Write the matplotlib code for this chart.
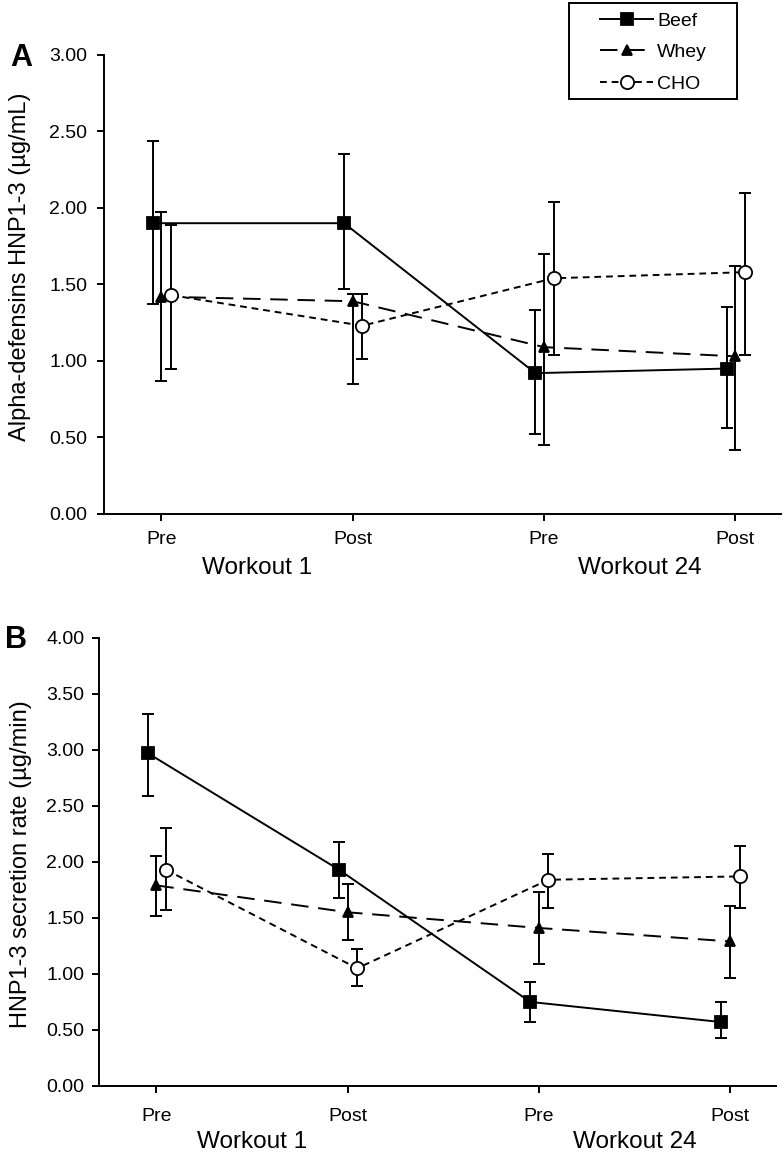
import matplotlib
matplotlib.use("Agg")
import matplotlib.pyplot as plt
from matplotlib.patches import Rectangle
import numpy as np

plt.rcParams['font.family'] = ['Liberation Sans', 'DejaVu Sans']

# time points, positions 1..4
time_labels = ["Pre", "Post", "Pre", "Post"]
workouts = ["Workout 1", "Workout 24"]
groups = ["Beef", "Whey", "CHO"]

# Panel A: alpha-defensins HNP1-3 (ug/mL), mean with lower / upper error bar ends
beef_a = [1.90, 1.90, 0.92, 0.95]
beef_a_lo = [1.37, 1.47, 0.52, 0.56]
beef_a_hi = [2.44, 2.35, 1.33, 1.35]
whey_a = [1.42, 1.39, 1.09, 1.03]
whey_a_lo = [0.87, 0.85, 0.45, 0.42]
whey_a_hi = [1.97, 1.44, 1.70, 1.62]
cho_a = [1.43, 1.23, 1.54, 1.58]
cho_a_lo = [0.95, 1.01, 1.04, 1.04]
cho_a_hi = [1.89, 1.44, 2.04, 2.10]

# Panel B: HNP1-3 secretion rate (ug/min)
beef_b = [2.97, 1.93, 0.75, 0.57]
beef_b_lo = [2.59, 1.68, 0.57, 0.43]
beef_b_hi = [3.32, 2.18, 0.93, 0.75]
whey_b = [1.79, 1.55, 1.41, 1.29]
whey_b_lo = [1.52, 1.30, 1.09, 0.96]
whey_b_hi = [2.05, 1.80, 1.73, 1.61]
cho_b = [1.93, 1.05, 1.84, 1.87]
cho_b_lo = [1.57, 0.89, 1.59, 1.59]
cho_b_hi = [2.30, 1.22, 2.07, 2.14]

x = np.arange(1, 5)
offsets = {"Beef": -0.045, "Whey": 0.0, "CHO": 0.05}
styles = {
    "Beef": dict(marker="s", ms=8.5, mfc="black", dashes=()),
    "Whey": dict(marker="^", ms=7.5, mfc="black", dashes=(9, 5)),
    "CHO": dict(marker="o", ms=9.5, mfc="white", dashes=(3.5, 2.5)),
}


def draw_panel(ax, series, ymax, ylabel, letter, ylab_pos, wk_y, xpad, ypad):
    handles = []
    for name, (m, lo, hi) in zip(groups, series):
        m = np.array(m)
        err = [m - np.array(lo), np.array(hi) - m]
        st = styles[name]
        xx = x + offsets[name]
        ax.errorbar(xx, m, yerr=err, fmt="none", ecolor="black",
                    elinewidth=1.4, capsize=4.5, capthick=1.4, zorder=2)
        kw = dict(color="black", lw=1.4, marker=st["marker"], ms=st["ms"],
                  mfc=st["mfc"], mec="black", mew=1.3, zorder=3)
        if st["dashes"]:
            h, = ax.plot(xx, m, ls="--", dashes=st["dashes"], **kw)
        else:
            h, = ax.plot(xx, m, ls="-", **kw)
        handles.append(h)
    ax.set_xlim(0.7, 4.24)
    ax.set_ylim(0, ymax)
    yt = np.arange(0, ymax + 0.01, 0.5)
    ax.set_yticks(yt)
    ax.set_yticklabels([f"{v:.2f}" for v in yt])
    ax.set_xticks(x)
    ax.set_xticklabels(time_labels)
    for s in ["top", "right"]:
        ax.spines[s].set_visible(False)
    for s in ["left", "bottom"]:
        ax.spines[s].set_linewidth(1.4)
    ax.tick_params(axis="both", direction="out", length=5, width=1.4,
                   labelsize=14, colors="black")
    ax.tick_params(axis="y", pad=ypad)
    ax.tick_params(axis="x", pad=xpad)
    ax.set_ylabel(ylabel, fontsize=17)
    ax.yaxis.set_label_coords(*ylab_pos)
    for i, w in enumerate(workouts):
        ax.text(1.5 + 2 * i, wk_y, w, transform=ax.get_xaxis_transform(),
                ha="center", va="center", fontsize=17.5)
    ax.text(-0.139, 0.994, letter, transform=ax.transAxes, fontsize=22,
            fontweight="bold", ha="left", va="center")
    return handles


fig = plt.figure(figsize=(7.83, 11.58), dpi=100)
ax1 = fig.add_axes([0.1328, 0.5562, 0.865, 0.3964])
ax2 = fig.add_axes([0.1264, 0.0622, 0.8646, 0.3871])

hs = draw_panel(ax1, [(beef_a, beef_a_lo, beef_a_hi), (whey_a, whey_a_lo, whey_a_hi),
                      (cho_a, cho_a_lo, cho_a_hi)], 3.0,
                "Alpha-defensins HNP1-3 (\u00b5g/mL)", "A", (-0.108, 0.538), -0.118, 7, 7)
draw_panel(ax2, [(beef_b, beef_b_lo, beef_b_hi), (whey_b, whey_b_lo, whey_b_hi),
                 (cho_b, cho_b_lo, cho_b_hi)], 4.0,
           "HNP1-3 secretion rate (\u00b5g/min)", "B", (-0.099, 0.495), -0.125, 10.5, 5.5)

W, H = 783, 1158
leg = fig.legend(hs, groups, loc="upper left", bbox_to_anchor=(600 / W, 1 - 12 / H),
                 frameon=False, fontsize=14, handlelength=2.75, handletextpad=0.2,
                 labelspacing=0.72, borderpad=0, borderaxespad=0)
fig.patches.append(Rectangle((569 / W, 1 - 99 / H), 168 / W, 96 / H,
                             transform=fig.transFigure, fill=False,
                             edgecolor="black", lw=1.4))

fig.savefig("out.png", dpi=100, facecolor="white")
